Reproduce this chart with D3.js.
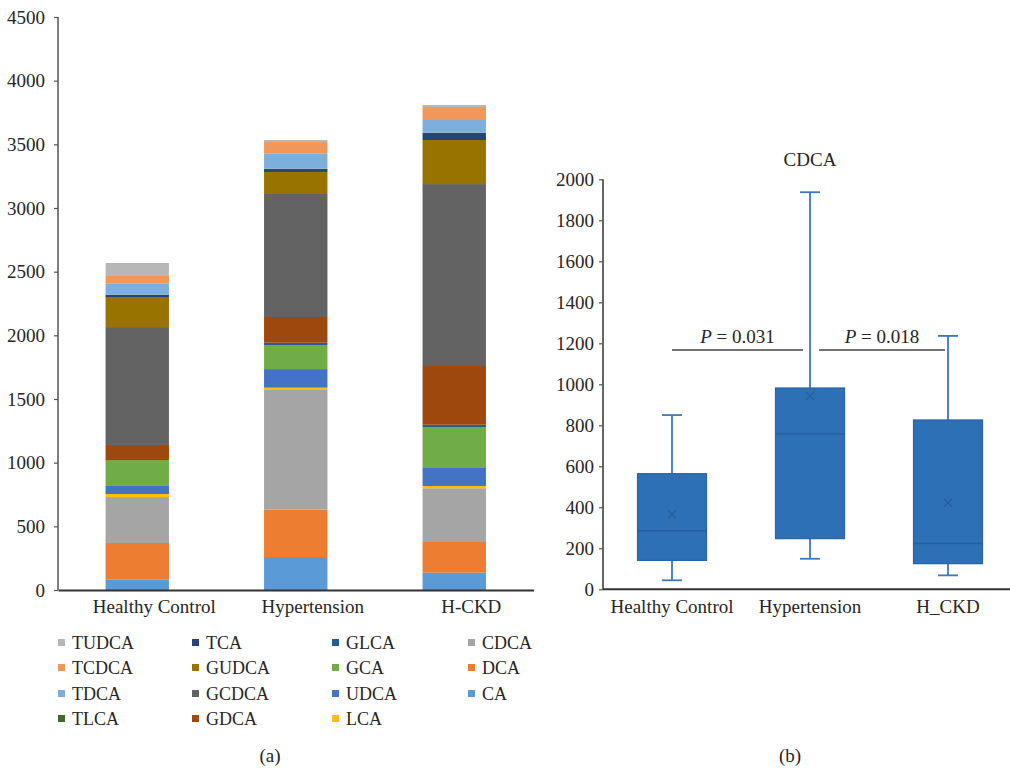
<!DOCTYPE html>
<html>
<head>
<meta charset="utf-8">
<script src="https://cdn.jsdelivr.net/npm/d3@7"></script>
<style>
  html, body { margin: 0; padding: 0; background: #fff; }
  svg { display: block; }
  svg text { font-family: "Liberation Serif", "DejaVu Serif", serif; fill: #262626; }
</style>
</head>
<body>
<svg id="chart" width="1010" height="769"></svg>
<script>
// ---- Panel (a): bile acid composition per group (stacked) ----
const groups = ["Healthy Control", "Hypertension", "H-CKD"];
// stacking order, bottom to top
const acids = ["CA", "DCA", "CDCA", "LCA", "UDCA", "GCA", "GLCA", "GDCA",
               "GCDCA", "GUDCA", "TCA", "TLCA", "TDCA", "TCDCA", "TUDCA"];
const acidColors = ["#5B9BD5", "#ED7D31", "#A5A5A5", "#FFC000", "#4472C4", "#70AD47",
                    "#255E91", "#9E480E", "#636363", "#997300", "#264478", "#43682B",
                    "#7CAFDD", "#F1975A", "#B7B7B7"];
// one value per group, in the order of `groups`
const CA    = [84, 259, 136];
const DCA   = [285, 372, 241];
const CDCA  = [361, 940, 422];
const LCA   = [24, 18, 18];
const UDCA  = [63, 146, 141];
const GCA   = [204, 189, 322];
const GLCA  = [8, 18, 18];
const GDCA  = [110, 202, 461];
const GCDCA = [926, 966, 1429];
const GUDCA = [236, 173, 346];
const TCA   = [16, 23, 55];
const TLCA  = [3, 3, 3];
const TDCA  = [85, 117, 99];
const TCDCA = [61, 92, 102];
const TUDCA = [102, 16, 16];
const stackTicks = [0, 500, 1000, 1500, 2000, 2500, 3000, 3500, 4000, 4500];
// legend grid, row by row
const legendRows = [
  ["TUDCA", "TCA", "GLCA", "CDCA"],
  ["TCDCA", "GUDCA", "GCA", "DCA"],
  ["TDCA", "GCDCA", "UDCA", "CA"],
  ["TLCA", "GDCA", "LCA"]
];

// ---- Panel (b): CDCA distribution per group ----
const boxGroups = ["Healthy Control", "Hypertension", "H_CKD"];
const whiskerLow  = [44, 149, 68];
const q1          = [141, 247, 125];
const median      = [286, 758, 224];
const q3          = [564, 982, 826];
const whiskerHigh = [850, 1937, 1236];
const meanVal     = [366, 943, 422];
const boxTicks = [0, 200, 400, 600, 800, 1000, 1200, 1400, 1600, 1800, 2000];
const pLabels = ["0.031", "0.018"];
const pLevel = 1167;

const seriesValues = {CA, DCA, CDCA, LCA, UDCA, GCA, GLCA, GDCA, GCDCA, GUDCA, TCA, TLCA, TDCA, TCDCA, TUDCA};
const colorOf = d3.scaleOrdinal().domain(acids).range(acidColors);

const svg = d3.select("#chart");
const FS = 19;      // axis labels, ticks, titles
const FS_LEG = 18;  // legend entries
const serif = '"Liberation Serif", "DejaVu Serif", serif';

function styleTicks(sel) {
  sel.attr("font-family", serif);
  sel.selectAll(".tick text").attr("font-size", FS).attr("fill", "#262626").style("font-family", serif);
}

// ================= Panel (a) =================
const xA = d3.scaleBand().domain(groups).range([58, 533.5]).paddingInner(0.6).paddingOuter(0.3);
const yA = d3.scaleLinear().domain([0, 4500]).range([590, 17]);

const rows = groups.map((g, i) => {
  const r = {group: g};
  acids.forEach(a => { r[a] = seriesValues[a][i]; });
  return r;
});
const stacked = d3.stack().keys(acids)(rows);

const gA = svg.append("g");
gA.selectAll("g.layer").data(stacked).join("g")
  .attr("class", "layer")
  .attr("fill", d => colorOf(d.key))
  .selectAll("rect").data(d => d).join("rect")
  .attr("x", d => xA(d.data.group))
  .attr("width", xA.bandwidth())
  .attr("y", d => yA(d[1]))
  .attr("height", d => Math.max(0, yA(d[0]) - yA(d[1])));

// y axis
const axA = gA.append("g").attr("transform", "translate(58,0)")
  .call(d3.axisLeft(yA).tickValues(stackTicks).tickSize(4).tickPadding(9).tickFormat(d3.format("d")));
axA.select(".domain").attr("stroke", "#555").attr("stroke-width", 1.5).attr("d", `M0,${yA(4500)}V${yA(0)}`);
axA.selectAll(".tick line").attr("stroke", "#555").attr("stroke-width", 1.2);
styleTicks(axA);

// x axis
const axAx = gA.append("g").attr("transform", `translate(0,${yA(0)})`)
  .call(d3.axisBottom(xA).tickSize(0).tickPadding(10));
axAx.select(".domain").attr("stroke", "#333").attr("stroke-width", 2);
styleTicks(axAx);
axAx.selectAll(".tick text").attr("dx", 17);

// legend
const legColX = [58, 192, 332, 468];
const legRowY = [643, 668, 694, 719];
legendRows.forEach((row, ri) => {
  row.forEach((name, ci) => {
    const g = svg.append("g").attr("transform", `translate(${legColX[ci]},${legRowY[ri]})`);
    g.append("rect").attr("x", 0).attr("y", -4).attr("width", 7).attr("height", 7).attr("fill", colorOf(name));
    g.append("text").attr("x", 14).attr("y", 6).attr("font-size", FS_LEG).text(name);
  });
});
svg.append("text").attr("x", 270).attr("y", 762).attr("text-anchor", "middle").attr("font-size", FS).text("(a)");

// ================= Panel (b) =================
const xB = d3.scaleBand().domain(boxGroups).range([603, 1017]).paddingInner(0.5).paddingOuter(0.25);
const yB = d3.scaleLinear().domain([0, 2000]).range([589.3, 179.3]);
const gB = svg.append("g");

const axB = gB.append("g").attr("transform", "translate(603,0)")
  .call(d3.axisLeft(yB).tickValues(boxTicks).tickSize(4).tickPadding(5).tickFormat(d3.format("d")));
axB.select(".domain").attr("stroke", "#555").attr("stroke-width", 1.8).attr("d", `M0,${yB(2000)}V${yB(0)}`);
axB.selectAll(".tick line").attr("stroke", "#555").attr("stroke-width", 1.2);
styleTicks(axB);

const boxData = boxGroups.map((g, i) => ({
  g, lo: whiskerLow[i], q1: q1[i], med: median[i], q3: q3[i], hi: whiskerHigh[i], mean: meanVal[i]
}));
const capW = 20;
const mid = d => xB(d.g) + xB.bandwidth() / 2;
const boxes = gB.selectAll("g.box").data(boxData).join("g").attr("class", "box");
const whiskerColor = "#3B78BE";
// whisker stems and caps
boxes.append("line").attr("x1", mid).attr("x2", mid)
  .attr("y1", d => yB(d.q3)).attr("y2", d => yB(d.hi))
  .attr("stroke", whiskerColor).attr("stroke-width", 1.8);
boxes.append("line").attr("x1", mid).attr("x2", mid)
  .attr("y1", d => yB(d.q1)).attr("y2", d => yB(d.lo))
  .attr("stroke", whiskerColor).attr("stroke-width", 1.8);
boxes.append("line")
  .attr("x1", d => mid(d) - capW / 2).attr("x2", d => mid(d) + capW / 2)
  .attr("y1", d => yB(d.hi)).attr("y2", d => yB(d.hi))
  .attr("stroke", whiskerColor).attr("stroke-width", 1.8);
boxes.append("line")
  .attr("x1", d => mid(d) - capW / 2).attr("x2", d => mid(d) + capW / 2)
  .attr("y1", d => yB(d.lo)).attr("y2", d => yB(d.lo))
  .attr("stroke", whiskerColor).attr("stroke-width", 1.8);
// interquartile box
boxes.append("rect")
  .attr("x", d => xB(d.g)).attr("width", xB.bandwidth())
  .attr("y", d => yB(d.q3)).attr("height", d => yB(d.q1) - yB(d.q3))
  .attr("fill", "#2E70B5").attr("stroke", "#2963A8").attr("stroke-width", 1.2);
// median
boxes.append("line")
  .attr("x1", d => xB(d.g)).attr("x2", d => xB(d.g) + xB.bandwidth())
  .attr("y1", d => yB(d.med)).attr("y2", d => yB(d.med))
  .attr("stroke", "#255FA0").attr("stroke-width", 1.5);
// mean marker
boxes.append("path")
  .attr("transform", d => `translate(${mid(d)},${yB(d.mean)})`)
  .attr("d", "M-4,-4L4,4M-4,4L4,-4")
  .attr("stroke", "#255FA0").attr("stroke-width", 1.3).attr("fill", "none");

// x axis
const axBx = gB.append("g").attr("transform", `translate(0,${yB(0)})`)
  .call(d3.axisBottom(xB).tickSize(0).tickPadding(10));
axBx.select(".domain").attr("stroke", "#333").attr("stroke-width", 2).attr("d", "M603,0H1010");
styleTicks(axBx);

// title
gB.append("text").attr("x", 810).attr("y", 166).attr("text-anchor", "middle").attr("font-size", FS).text("CDCA");

// significance brackets
const cx = i => xB(boxGroups[i]) + xB.bandwidth() / 2;
const brackets = [
  {x1: cx(0), x2: cx(1) - 7, label: pLabels[0]},
  {x1: cx(1) + 9, x2: cx(2) - 3, label: pLabels[1]}
];
brackets.forEach(b => {
  gB.append("line").attr("x1", b.x1).attr("x2", b.x2)
    .attr("y1", yB(pLevel)).attr("y2", yB(pLevel))
    .attr("stroke", "#444").attr("stroke-width", 1.6);
  const t = gB.append("text").attr("x", (b.x1 + b.x2) / 2).attr("y", yB(pLevel) - 7)
    .attr("text-anchor", "middle").attr("font-size", FS);
  t.append("tspan").attr("font-style", "italic").text("P");
  t.append("tspan").text(" = " + b.label);
});

svg.append("text").attr("x", 790).attr("y", 762).attr("text-anchor", "middle").attr("font-size", FS).text("(b)");
</script>
</body>
</html>
